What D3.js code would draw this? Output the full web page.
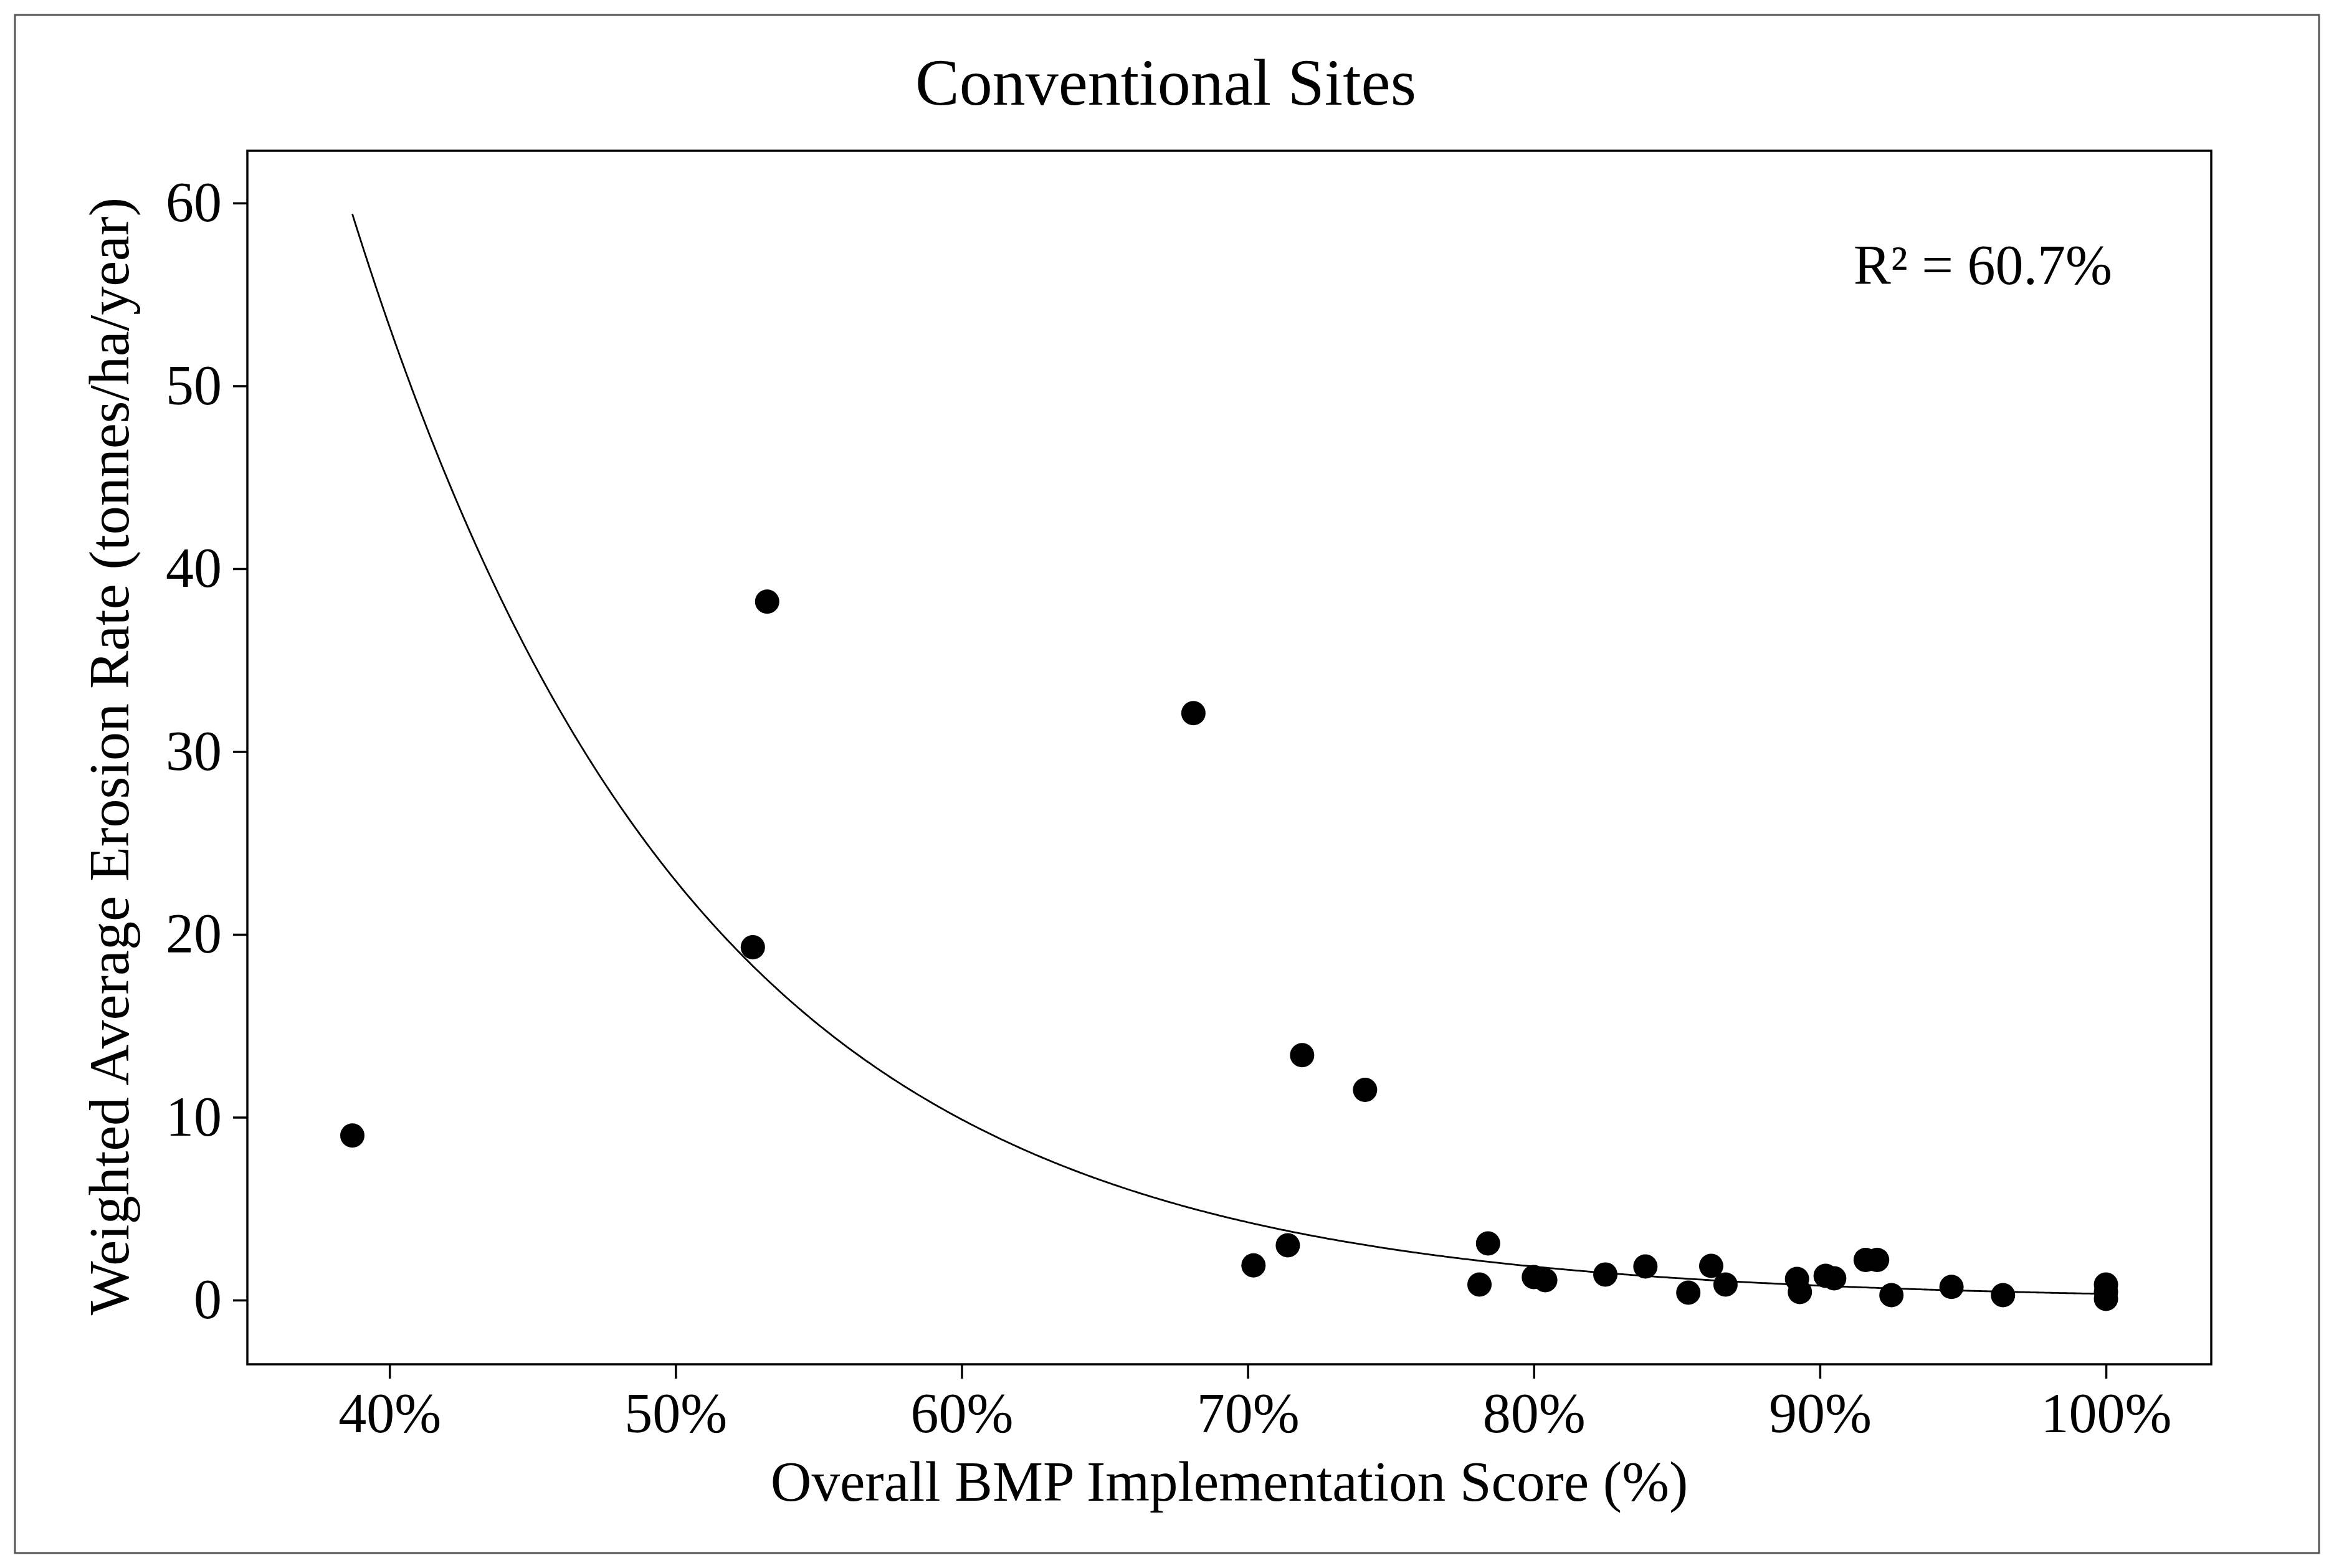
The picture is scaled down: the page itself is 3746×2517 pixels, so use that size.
<!DOCTYPE html>
<html>
<head>
<meta charset="utf-8">
<script src="https://cdn.jsdelivr.net/npm/d3@7"></script>
<style>
  html, body { margin: 0; padding: 0; background: #fff; }
  svg { display: block; }
  text { font-family: "Liberation Serif", "Times New Roman", serif; fill: #000; }
</style>
</head>
<body>
<script>
// ---- Data ----
const scoreX = [38.7, 52.7, 53.2, 68.1, 70.2, 71.4, 71.9, 74.1, 78.1, 78.4, 80.0, 80.4, 82.5, 83.9, 85.4, 86.2, 86.7, 89.2, 89.3, 90.2, 90.5, 91.6, 92.0, 92.5, 94.6, 96.4, 100, 100, 100];
const erosionY = [9.0, 19.3, 38.2, 32.1, 1.9, 3.0, 13.4, 11.5, 0.85, 3.1, 1.26, 1.09, 1.4, 1.84, 0.41, 1.87, 0.85, 1.16, 0.44, 1.33, 1.19, 2.2, 2.2, 0.27, 0.72, 0.27, 0.85, 0.45, 0.07];
const xTicks = [40, 50, 60, 70, 80, 90, 100];
const yTicks = [0, 10, 20, 30, 40, 50, 60];
// exponential fit shown in the chart: y = fitA * exp(fitB * x)
const fitA = 1545;
const fitB = -0.0842;
const fitRange = [38.7, 100];
const titleText = "Conventional Sites";
const xLabel = "Overall BMP Implementation Score (%)";
const yLabel = "Weighted Average Erosion Rate (tonnes/ha/year)";
const r2Text = "R\u00B2 = 60.7%";

// ---- Layout ----
const W = 3746, H = 2517;
const plot = { left: 397, right: 3549, top: 242, bottom: 2190 };

const svg = d3.select("body").append("svg").attr("width", W).attr("height", H);
svg.append("rect").attr("width", W).attr("height", H).attr("fill", "#fff");

// outer border
svg.append("rect").attr("x", 24).attr("y", 24).attr("width", W - 48).attr("height", H - 48)
  .attr("fill", "none").attr("stroke", "#555").attr("stroke-width", 3);

const x = d3.scaleLinear().domain([35.03, 103.68]).range([plot.left, plot.right]);
const y = d3.scaleLinear().domain([-3.51, 62.86]).range([plot.bottom, plot.top]);

// title
svg.append("text").attr("x", W / 2 - 2).attr("y", 168).attr("text-anchor", "middle")
  .attr("font-size", 106).text(titleText);

// axes
const xAxis = d3.axisBottom(x).tickValues(xTicks).tickSize(23).tickPadding(22)
  .tickFormat(d => d + "%");
const yAxis = d3.axisLeft(y).tickValues(yTicks).tickSize(23).tickPadding(18)
  .tickFormat(d3.format("d"));

const gx = svg.append("g").attr("transform", `translate(0,${plot.bottom})`).call(xAxis);
const gy = svg.append("g").attr("transform", `translate(${plot.left},0)`).call(yAxis);
[gx, gy].forEach(g => {
  g.select(".domain").remove();
  g.selectAll(".tick line").attr("stroke", "#000").attr("stroke-width", 3.5);
  g.selectAll(".tick text").attr("font-size", 90).attr("fill", "#000")
    .style("font-family", '"Liberation Serif", "Times New Roman", serif');
});
gx.selectAll(".tick text").attr("dy", "0.71em");

// plot frame
svg.append("rect").attr("x", plot.left).attr("y", plot.top)
  .attr("width", plot.right - plot.left).attr("height", plot.bottom - plot.top)
  .attr("fill", "none").attr("stroke", "#000").attr("stroke-width", 3.5);

// fitted curve
const curveXs = d3.range(fitRange[0], fitRange[1] + 0.001, 0.1);
const line = d3.line().x(d => x(d)).y(d => y(fitA * Math.exp(fitB * d))).curve(d3.curveLinear);
svg.append("path").datum(curveXs).attr("d", line)
  .attr("fill", "none").attr("stroke", "#000").attr("stroke-width", 2.8);

// points
const pts = scoreX.map((v, i) => ({ x: v, y: erosionY[i] }));
svg.append("g").selectAll("circle").data(pts).join("circle")
  .attr("cx", d => x(d.x)).attr("cy", d => y(d.y)).attr("r", 19.5).attr("fill", "#000");

// R² annotation
svg.append("text").attr("x", 3390).attr("y", 456).attr("text-anchor", "end")
  .attr("font-size", 90).text(r2Text);

// axis titles
svg.append("text").attr("x", (plot.left + plot.right) / 2).attr("y", 2409)
  .attr("text-anchor", "middle").attr("font-size", 91).text(xLabel);
svg.append("text")
  .attr("transform", `translate(206,${(plot.top + plot.bottom) / 2 - 2}) rotate(-90)`)
  .attr("text-anchor", "middle").attr("font-size", 92).text(yLabel);
</script>
</body>
</html>
